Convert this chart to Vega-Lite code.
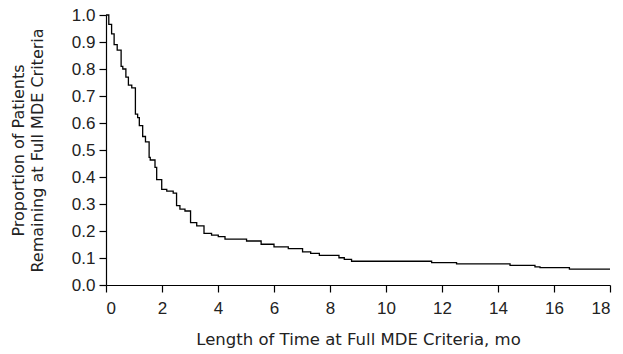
{
  "$schema": "https://vega.github.io/schema/vega-lite/v6.json",
  "width": 504,
  "height": 270,
  "autosize": {"type": "none"},
  "padding": {"left": 106, "top": 15, "right": 13, "bottom": 69},
  "background": "white",
  "config": {
    "view": {"stroke": null},
    "font": "Liberation Sans",
    "axis": {
      "grid": false,
      "domainColor": "black",
      "tickColor": "black",
      "domainWidth": 1.2,
      "tickWidth": 1.2,
      "tickSize": 7,
      "labelColor": "#222",
      "titleColor": "#222",
      "labelFont": "Liberation Sans",
      "titleFont": "DejaVu Sans",
      "labelFontSize": 17,
      "titleFontSize": 16.5,
      "titleFontWeight": "normal"
    }
  },
  "data": {
    "values": [
      {"t": 0, "s": 1.0},
      {"t": 0.1, "s": 0.965},
      {"t": 0.2, "s": 0.93},
      {"t": 0.29, "s": 0.89},
      {"t": 0.4, "s": 0.87},
      {"t": 0.54, "s": 0.81},
      {"t": 0.6, "s": 0.8},
      {"t": 0.71, "s": 0.77},
      {"t": 0.8, "s": 0.74},
      {"t": 0.92, "s": 0.73},
      {"t": 1.05, "s": 0.633},
      {"t": 1.13, "s": 0.62},
      {"t": 1.19, "s": 0.59},
      {"t": 1.31, "s": 0.55},
      {"t": 1.41, "s": 0.53},
      {"t": 1.54, "s": 0.473},
      {"t": 1.58, "s": 0.463},
      {"t": 1.75, "s": 0.436},
      {"t": 1.81, "s": 0.39},
      {"t": 1.99, "s": 0.354},
      {"t": 2.17, "s": 0.348},
      {"t": 2.4, "s": 0.34},
      {"t": 2.52, "s": 0.294},
      {"t": 2.64, "s": 0.281},
      {"t": 2.82, "s": 0.274},
      {"t": 3.02, "s": 0.231},
      {"t": 3.24, "s": 0.219},
      {"t": 3.5, "s": 0.191},
      {"t": 3.77, "s": 0.185},
      {"t": 4.01, "s": 0.179},
      {"t": 4.25, "s": 0.17},
      {"t": 5.02, "s": 0.163},
      {"t": 5.54, "s": 0.151},
      {"t": 6.0, "s": 0.141},
      {"t": 6.51, "s": 0.135},
      {"t": 7.02, "s": 0.123},
      {"t": 7.31, "s": 0.117},
      {"t": 7.62, "s": 0.11},
      {"t": 8.32, "s": 0.101},
      {"t": 8.51, "s": 0.095},
      {"t": 8.77, "s": 0.088},
      {"t": 11.63, "s": 0.083},
      {"t": 12.52, "s": 0.078},
      {"t": 14.43, "s": 0.073},
      {"t": 15.32, "s": 0.067},
      {"t": 15.5, "s": 0.064},
      {"t": 16.55, "s": 0.059},
      {"t": 18, "s": 0.059}
    ]
  },
  "mark": {"type": "line", "interpolate": "step-after", "color": "black", "strokeWidth": 1.3},
  "encoding": {
    "x": {
      "field": "t",
      "type": "quantitative",
      "scale": {"domain": [0, 18], "nice": false, "zero": true},
      "axis": {"values": [0, 2, 4, 6, 8, 10, 12, 14, 16, 18], "title": "Length of Time at Full MDE Criteria, mo", "titlePadding": 15, "labelPadding": 8}
    },
    "y": {
      "field": "s",
      "type": "quantitative",
      "scale": {"domain": [0, 1], "nice": false},
      "axis": {
        "values": [0, 0.1, 0.2, 0.3, 0.4, 0.5, 0.6, 0.7, 0.8, 0.9, 1.0],
        "format": ".1f",
        "title": ["Proportion of Patients", "Remaining at Full MDE Criteria"],
        "titleFontSize": 16,
        "titleLineHeight": 19,
        "titlePadding": 26,
        "labelPadding": 4
      }
    }
  }
}
